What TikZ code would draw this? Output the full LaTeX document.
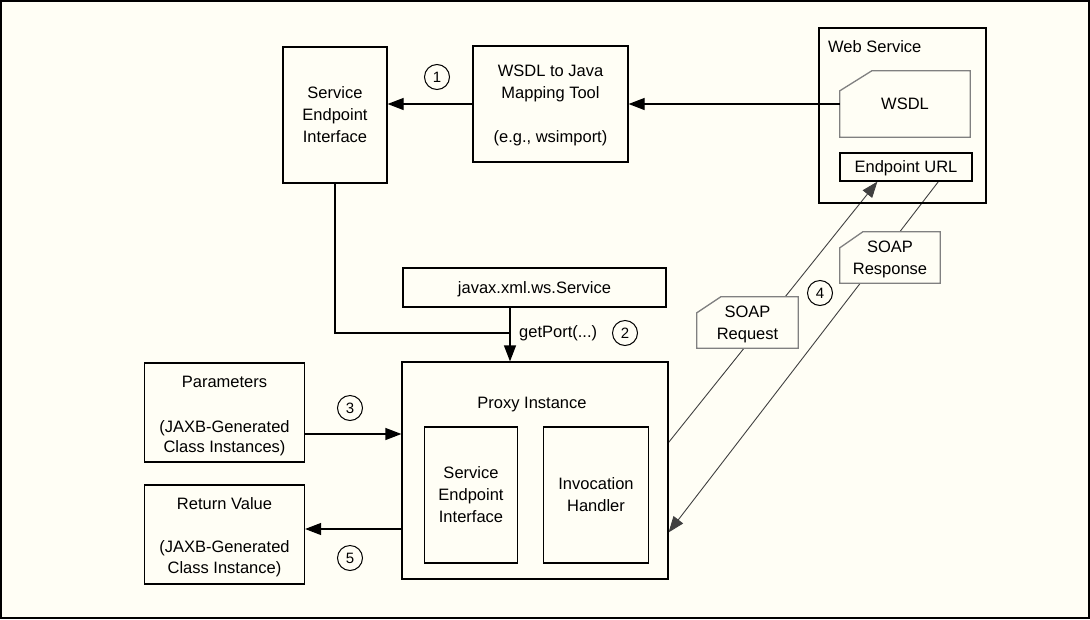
\documentclass[tikz,border=0pt]{standalone}
\usepackage{fontspec}
\setmainfont{Liberation Sans}
\usetikzlibrary{arrows.meta,calc}
\definecolor{bg}{RGB}{255,254,245}
\pgfdeclarelayer{bgl}
\pgfdeclarelayer{conn}
\pgfdeclarelayer{docl}
\pgfsetlayers{bgl,conn,docl,main}
\newcommand\DocOutline[3]{%
  \draw[doc] (#1.south west) -- ($(#1.north west)+(0,#3)$) -- ($(#1.north west)+(#2,0)$) -- (#1.north east) -- (#1.south east) -- cycle;}
\begin{document}
\begin{tikzpicture}[x=1pt,y=-1pt,
  every node/.style={font=\fontsize{16.5}{22}\selectfont, inner sep=0pt, text depth=0pt},
  box/.style={draw, line width=1.2pt, align=center},
  arr/.style={line width=1.2pt, -{Triangle[length=16pt,width=12pt]}},
  soap/.style={line width=0.9pt, draw=black!75},
  soaparr/.style={soap, -{Triangle[length=16pt,width=12pt]}},
  num/.style={draw, circle, line width=1pt, minimum size=25pt, font=\fontsize{15}{15}\selectfont},
  doc/.style={draw=black!50, line width=1.3pt, fill=bg},
  docnode/.style={align=center}
]
\begin{pgfonlayer}{bgl}
\fill[bg] (0,0) rectangle (1090,619);
\end{pgfonlayer}
\useasboundingbox (0,0) rectangle (1090,619);
\draw[line width=2pt] (1,1) rectangle (1089,618);

% top row
\node[box, minimum width=104pt, minimum height=136pt] (sei) at (335,115) {Service\\Endpoint\\Interface};
\node[box, minimum width=155pt, minimum height=116pt] (tool) at (550.5,104) {WSDL to Java\\Mapping Tool\\[22pt](e.g., wsimport)};
\node[box, minimum width=167pt, minimum height=175pt] (ws) at (902.5,115.5) {};
\node[anchor=west] (wslabel) at (828,47) {Web Service};
\node[docnode, minimum width=130pt, minimum height=66pt] (wsdl) at (905,104) {WSDL};
\node[box, minimum width=132pt, minimum height=28pt] (ep) at (906,167) {Endpoint URL};

% middle
\node[box, minimum width=263pt, minimum height=39pt] (svc) at (534.5,287.5) {javax.xml.ws.Service};
\node[anchor=west] (gpl) at (519,332) {getPort(...)};

% proxy
\node[box, minimum width=266pt, minimum height=217pt] (proxy) at (535,470.5) {};
\node (proxylabel) at (532,403) {Proxy Instance};
\node[box, minimum width=93pt, minimum height=136pt] (isei) at (471,495) {Service\\Endpoint\\Interface};
\node[box, minimum width=105pt, minimum height=136pt] (ih) at (596,495) {Invocation\\Handler};

% left boxes
\node[box, minimum width=160pt, minimum height=99pt] (par) at (224.5,412.5) {\rule{0pt}{14pt}Parameters\\[23pt](JAXB-Generated\\[-2pt]Class Instances)};
\node[box, minimum width=160pt, minimum height=99pt] (ret) at (224.5,534.5) {\rule{0pt}{14pt}Return Value\\[21pt](JAXB-Generated\\[-1pt]Class Instance)};

% SOAP messages
\node[docnode, minimum width=101pt, minimum height=51pt] (req) at (747.5,322.5) {SOAP\\Request};
\node[docnode, minimum width=100pt, minimum height=51pt] (resp) at (890,257.5) {SOAP\\Response};

% numbers
\node[num] (n1) at (437,77) {1};
\node[num] (n2) at (625,333) {2};
\node[num] (n3) at (350,408) {3};
\node[num] (n4) at (820,293) {4};
\node[num] (n5) at (350,558) {5};

% doc outlines
\begin{pgfonlayer}{docl}
\DocOutline{wsdl}{32}{20}
\DocOutline{req}{24}{16}
\DocOutline{resp}{23}{16}
\end{pgfonlayer}

% connectors
\draw[arr] (tool.west) -- (tool.west -| sei.east);
\draw[arr] (wsdl.west) -- (wsdl.west -| tool.east);
\coordinate (gp) at (510,333);
\draw[line width=1.2pt] (sei.south) |- (gp);
\draw[arr] (svc.south -| gp) -- (proxy.north -| gp);
\coordinate (a3s) at ($(par.east)+(0,21.5)$);
\draw[arr] (a3s) -- (a3s -| proxy.west);
\coordinate (a5s) at ($(proxy.west |- ret.east)+(0,-5.5)$);
\draw[arr] (a5s) -- (a5s -| ret.east);

\begin{pgfonlayer}{conn}
\coordinate (reqs) at ($(proxy.north east)+(0,81)$);
\coordinate (reqe) at ($(ep.south west)+(38,0)$);
\draw[soaparr] (reqs) -- (reqe);
\coordinate (resps) at ($(ep.south west)+(99,0)$);
\coordinate (respe) at ($(proxy.north east)+(0,171)$);
\draw[soaparr] (resps) -- (respe);
\end{pgfonlayer}
\end{tikzpicture}
\end{document}
